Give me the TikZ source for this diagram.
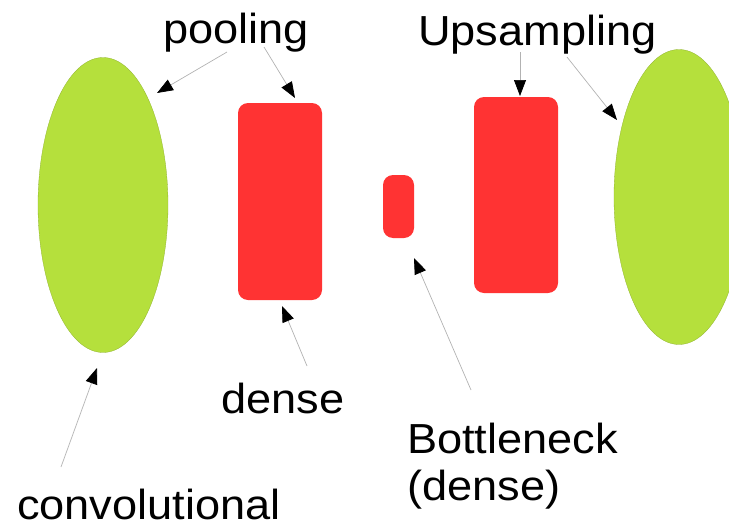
\documentclass[tikz,border=0pt]{standalone}
\usepackage{fontspec}
\setmainfont{Liberation Sans}
\newfontfamily\lblfont[FakeStretch=1.075]{Liberation Sans}
\usetikzlibrary{arrows.meta,shapes.geometric}
\definecolor{lgreen}{HTML}{B5E03C}
\definecolor{lred}{HTML}{FF3333}
\begin{document}
\begin{tikzpicture}[x=1pt,y=-1pt,
  lbl/.style={anchor=base west,inner sep=0pt,font=\lblfont\fontsize{42}{50}\selectfont},
  blob/.style={ellipse,fill=lgreen,draw=lgreen!80!black,line width=0.3pt,inner sep=0pt},
  block/.style={rectangle,rounded corners=10pt,fill=lred,draw=none,inner sep=0pt},
  pointer/.style={draw=black!30,line width=0.7pt,-{Triangle[length=16pt,width=12pt,fill=black,color=black]}}]
\useasboundingbox (0,0) rectangle (729,525);
\node[blob,minimum width=130pt,minimum height=295pt] (convL) at (103,205) {};
\node[blob,minimum width=130pt,minimum height=295pt] (convR) at (679,197) {};
\node[block,minimum width=84pt,minimum height=197pt] (denseA) at (280,201.5) {};
\node[block,minimum width=31pt,minimum height=63pt] (bneck) at (398.5,206.5) {};
\node[block,minimum width=84pt,minimum height=196pt] (denseB) at (516,195) {};
\node[lbl] (pool) at (163,43) {pooling};
\node[lbl] (ups) at (418,45) {Upsampling};
\node[lbl] (dlbl) at (221,413) {dense};
\node[lbl] (blbl) at (407,453) {Bottleneck};
\node[lbl] (blbl2) at (407,500) {(dense)};
\node[lbl] (clbl) at (17,519) {convolutional};
\coordinate (p1s) at (227,52); \coordinate (p1e) at (157,93);
\coordinate (p2s) at (264,47); \coordinate (p2e) at (295,98);
\coordinate (u1s) at (520,52); \coordinate (u1e) at (520,96);
\coordinate (u2s) at (567,57); \coordinate (u2e) at (617,120);
\coordinate (cs) at (61,467); \coordinate (ce) at (97,368);
\coordinate (ds) at (307,366); \coordinate (de) at (282,306);
\coordinate (bs) at (471,390); \coordinate (be) at (414,258);
\draw[pointer] (p1s) -- (p1e);
\draw[pointer] (p2s) -- (p2e);
\draw[pointer] (u1s) -- (u1e);
\draw[pointer] (u2s) -- (u2e);
\draw[pointer] (cs) -- (ce);
\draw[pointer] (ds) -- (de);
\draw[pointer] (bs) -- (be);
\end{tikzpicture}
\end{document}
